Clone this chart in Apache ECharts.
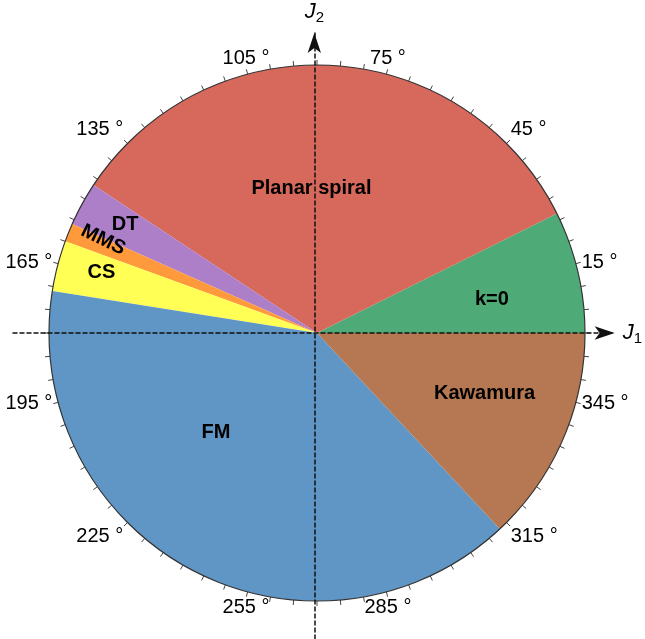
<!DOCTYPE html>
<html>
<head>
<meta charset="utf-8">
<script src="https://cdn.jsdelivr.net/npm/echarts@6/dist/echarts.min.js"></script>
<style>html,body{margin:0;padding:0;background:#fff}#c{width:645px;height:639px}</style>
</head>
<body>
<div id="c"></div>
<script>
// Phase names and their angular extents (degrees, counter-clockwise from J1)
const phases = ['k=0', 'Planar spiral', 'DT', 'MMS', 'CS', 'FM', 'Kawamura'];
const spans = [26.5, 120, 9.5, 4, 11, 142, 47];
const colors = ['#4EAB78', '#D6695C', '#AE7FC9', '#FF9A3C', '#FFFF55', '#6096C5', '#B57852'];
// Label anchor in polar coordinates [radius fraction, angle deg]
const labelRadius = [0.665, 0.538, 0.822, 0.87, 0.836, 0.528, 0.664];
const labelAngle = [11.0, 92.2, 150.6, 156.5, 164.2, 224.4, 340.3];
const labelRotate = [0, 0, 0, -26, 0, 0, 0];
// Angle axis tick labels
const angleLabels = [15, 45, 75, 105, 135, 165, 195, 225, 255, 285, 315, 345];

const CX = 317, CY = 333, R = 268;
const FONT = '"Liberation Sans", Arial, Helvetica, sans-serif';

const chart = echarts.init(document.getElementById('c'), null, {renderer: 'canvas'});
const option = {
  animation: false,
  backgroundColor: '#fff',
  polar: {center: [CX, CY], radius: R},
  angleAxis: {
    type: 'value', min: 0, max: 360, interval: 5, startAngle: 0, clockwise: false,
    axisLine: {lineStyle: {color: '#333', width: 1.2}},
    axisTick: {show: true, length: 5, lineStyle: {color: '#444', width: 1}},
    splitLine: {show: false},
    axisLabel: {
      margin: 6, fontSize: 20, color: '#000', fontFamily: FONT,
      formatter: v => angleLabels.includes(v) ? v + ' °' : ''
    },
    z: 3
  },
  radiusAxis: {type: 'value', min: 0, max: 1, show: false, axisLine: {show: false}, axisTick: {show: false}, axisLabel: {show: false}, splitLine: {show: false}},
  grid: {left: 13, right: 25, top: 33, bottom: 0},
  xAxis: {
    type: 'value', min: -304, max: 303, z: 10,
    axisLine: {onZero: true, symbol: ['none', 'arrow'], symbolSize: [10, 20], lineStyle: {color: '#111', width: 1.5, type: [4, 3]}},
    axisTick: {show: false}, axisLabel: {show: false}, splitLine: {show: false},
    name: '{j|J}{s|1}', nameLocation: 'end', nameGap: 8,
    nameTextStyle: {rich: {j: {fontStyle: 'italic', fontSize: 22, fontFamily: FONT, color: '#000'}, s: {fontSize: 15, fontFamily: FONT, color: '#000', padding: [12, 0, 0, 0]}}}
  },
  yAxis: {
    type: 'value', min: -306, max: 300, z: 10,
    axisLine: {onZero: true, symbol: ['none', 'arrow'], symbolSize: [10, 20], lineStyle: {color: '#111', width: 1.5, type: [4, 3]}},
    axisTick: {show: false}, axisLabel: {show: false}, splitLine: {show: false},
    name: '{j|J}{s|2}', nameLocation: 'end', nameGap: 8,
    nameTextStyle: {rich: {j: {fontStyle: 'italic', fontSize: 22, fontFamily: FONT, color: '#000'}, s: {fontSize: 15, fontFamily: FONT, color: '#000', padding: [12, 0, 0, 0]}}}
  },
  series: [
    {
      type: 'pie', center: [CX, CY], radius: [0, R], startAngle: 0, clockwise: false,
      z: 2, silent: true, label: {show: false}, labelLine: {show: false},
      itemStyle: {borderWidth: 0},
      data: phases.map((p, i) => ({name: p, value: spans[i], itemStyle: {color: colors[i]}}))
    },
    {
      type: 'scatter', coordinateSystem: 'polar', symbolSize: 0, z: 20, silent: true,
      itemStyle: {opacity: 1},
      label: {show: true, position: 'inside', fontSize: 20, fontWeight: 'bold', color: '#000', opacity: 1, fontFamily: FONT, formatter: p => p.name},
      data: phases.map((p, i) => ({name: p, value: [labelRadius[i], labelAngle[i]], label: {rotate: labelRotate[i]}}))
    }
  ]
};
chart.setOption(option);
</script>
</body>
</html>
